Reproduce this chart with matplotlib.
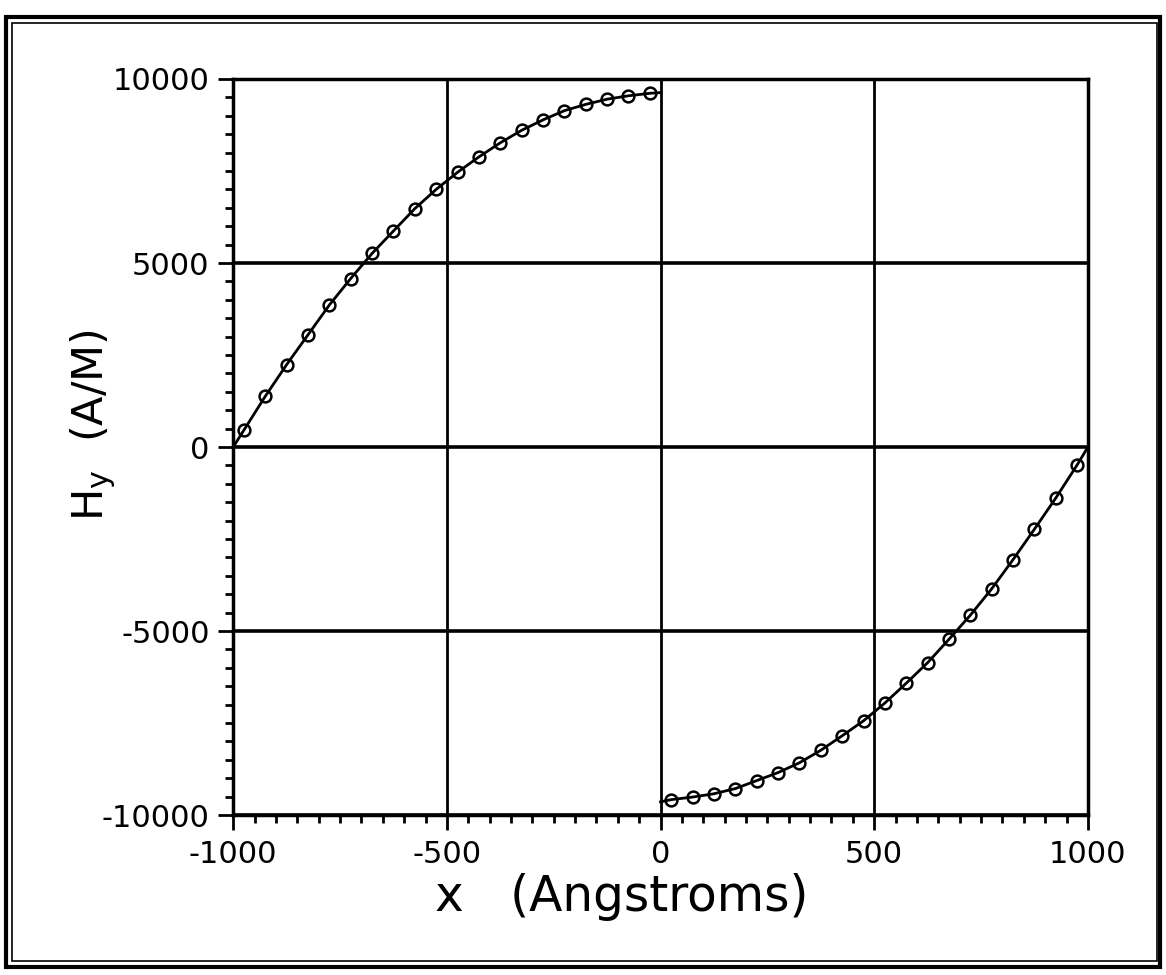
import matplotlib
matplotlib.use("Agg")
import matplotlib.pyplot as plt
from matplotlib.patches import Rectangle
from matplotlib.ticker import MultipleLocator

plt.rcParams['axes.unicode_minus'] = False

# Hy sampled at cell centres, left half of the film
x_left = [-975, -925, -875, -825, -775, -725, -675, -625, -575, -525,
          -475, -425, -375, -325, -275, -225, -175, -125, -75, -25]
hy_left = [459, 1378, 2239, 3049, 3859, 4579, 5261, 5870, 6478, 7000,
           7465, 7883, 8266, 8606, 8889, 9139, 9310, 9451, 9543, 9611]

# right half of the film
x_right = [25, 75, 125, 175, 225, 275, 325, 375, 425, 475,
           525, 575, 625, 675, 725, 775, 825, 875, 925, 975]
hy_right = [-9580, -9510, -9420, -9280, -9063, -8845, -8579, -8239, -7845, -7438,
            -6954, -6416, -5859, -5223, -4568, -3851, -3057, -2231, -1383, -484]

# continuous field curves, including the edge values
xc_left = [-1000] + x_left + [0]
hyc_left = [0] + hy_left + [9630]
xc_right = [0] + x_right + [1000]
hyc_right = [-9640] + hy_right + [0]

x_ticks = [-1000, -500, 0, 500, 1000]
y_ticks = [-10000, -5000, 0, 5000, 10000]

fig = plt.figure(figsize=(11.66, 9.75), dpi=100)
ax = fig.add_axes([0.2, 0.164, 0.733, 0.755])

# double frame around the page
fig.patches.append(Rectangle((0.005, 0.008), 0.99, 0.975, transform=fig.transFigure,
                             fill=False, lw=3, ec='black'))
fig.patches.append(Rectangle((0.010, 0.014), 0.982, 0.962, transform=fig.transFigure,
                             fill=False, lw=1.2, ec='black'))

for xs, ys in [(xc_left, hyc_left), (xc_right, hyc_right)]:
    ax.plot(xs, ys, color='black', lw=2, zorder=3)
for xs, ys in [(x_left, hy_left), (x_right, hy_right)]:
    ax.plot(xs, ys, 'o', mfc='none', mec='black', ms=8.5, mew=1.8, zorder=4)

ax.set_xlim(-1000, 1000)
ax.set_ylim(-10000, 10000)
ax.set_xticks(x_ticks)
ax.set_yticks(y_ticks)
ax.xaxis.set_minor_locator(MultipleLocator(50))
ax.yaxis.set_minor_locator(MultipleLocator(500))
ax.grid(True, which='major', axis='y', color='black', lw=2.6)
ax.grid(True, which='major', axis='x', color='black', lw=2)
ax.tick_params(which='major', direction='out', length=11, width=2, labelsize=22)
ax.tick_params(axis='y', which='major', pad=6)
ax.tick_params(axis='x', which='major', pad=7)
ax.tick_params(which='minor', direction='out', length=6, width=2)
for s in ax.spines.values():
    s.set_linewidth(2.5)

ax.set_xlabel('x   (Angstroms)', fontsize=35)
ax.xaxis.set_label_coords(0.455, -0.078)
ax.set_ylabel(r'H$_\mathregular{y}$  (A/M)', fontsize=31)
ax.yaxis.set_label_coords(-0.135, 0.53)

fig.savefig('out.png', dpi=100)
